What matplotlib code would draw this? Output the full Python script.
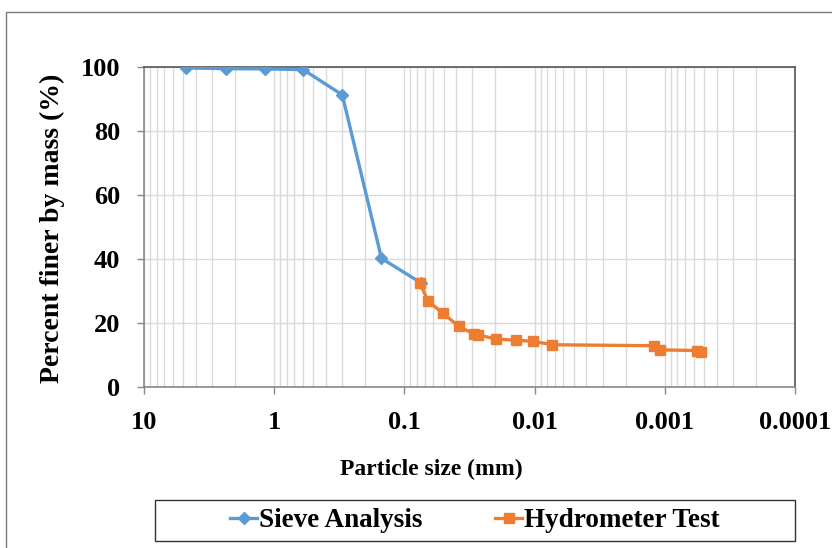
import numpy as np
import matplotlib.pyplot as plt
from matplotlib.patches import Rectangle

# Sieve analysis (particle size in mm, percent finer)
sieve_size = [4.75, 2.36, 1.18, 0.6, 0.3, 0.15, 0.075]
sieve_pass = [99.7, 99.5, 99.4, 99.2, 91.3, 40.2, 32.6]

# Hydrometer test
hydro_size = [0.0757, 0.0662, 0.0507, 0.0384, 0.0290, 0.0272, 0.0197,
              0.0140, 0.0102, 0.00736, 0.00121, 0.00109, 0.00057, 0.00053]
hydro_pass = [32.6, 26.9, 23.1, 19.0, 16.5, 16.3, 15.0,
              14.6, 14.3, 13.2, 12.9, 11.6, 11.4, 10.9]

x_ticks = [10, 1, 0.1, 0.01, 0.001, 0.0001]
x_labels = ['10', '1', '0.1', '0.01', '0.001', '0.0001']
y_ticks = [0, 20, 40, 60, 80, 100]

plt.rcParams['font.family'] = ['Liberation Serif', 'DejaVu Serif']
plt.rcParams['font.weight'] = 'bold'

fig = plt.figure(figsize=(8.32, 5.48), dpi=100)
ax = fig.add_axes([0.1731, 0.2938, 0.7824, 0.5839])

blue = '#5b9bd5'
orange = '#ed7d31'
ax.plot(sieve_size, sieve_pass, '-D', color=blue, lw=2.4, ms=6.5,
        label='Sieve Analysis', zorder=3)
ax.plot(hydro_size, hydro_pass, '-s', color=orange, lw=2.4, ms=7.5,
        label='Hydrometer Test', zorder=4)

ax.set_xscale('log')
ax.set_xlim(10, 0.0001)
ax.set_ylim(0, 100)
ax.set_xticks(x_ticks)
ax.set_xticklabels(x_labels)
ax.set_yticks(y_ticks)
ax.tick_params(axis='both', which='major', labelsize=19, length=5,
               width=1, color='#888888', direction='out')
ax.tick_params(axis='y', pad=12)
ax.tick_params(axis='x', pad=12)
ax.tick_params(axis='x', which='minor', length=0)

ax.grid(True, which='major', axis='both', color='#d9d9d9', lw=1)
ax.grid(True, which='minor', axis='x', color='#d9d9d9', lw=1)
ax.set_axisbelow(True)

for side in ['left', 'bottom']:
    ax.spines[side].set_color('#888888')
    ax.spines[side].set_linewidth(1.2)
for side in ['top', 'right']:
    ax.spines[side].set_color('#555555')
    ax.spines[side].set_linewidth(1.2)

ax.set_xlabel('Particle size (mm)', fontsize=17, fontweight='bold')
ax.xaxis.set_label_coords(0.441, -0.225)
ax.set_ylabel('Percent finer by mass (%)', fontsize=20, fontweight='bold')
ax.yaxis.set_label_coords(-0.121, 0.497)

leg = fig.legend(loc='center', bbox_to_anchor=(0.186, 0.0128, 0.7695, 0.0748),
                 ncol=2, frameon=False,
                 handlelength=1.0, handletextpad=0.05, columnspacing=2.7,
                 borderpad=0.2, prop={'weight': 'bold', 'size': 19.5})

# legend box
fig.add_artist(Rectangle((0.186, 0.0128), 0.7695, 0.0748,
                         transform=fig.transFigure, fill=False,
                         ec='#333333', lw=1.0))

# outer chart border
fig.add_artist(Rectangle((6 / 832, -0.05), 1.0, 1 - 12 / 548 + 0.05,
                         transform=fig.transFigure, fill=False,
                         ec='#777777', lw=1.0))

plt.savefig('out.png', dpi=100)
